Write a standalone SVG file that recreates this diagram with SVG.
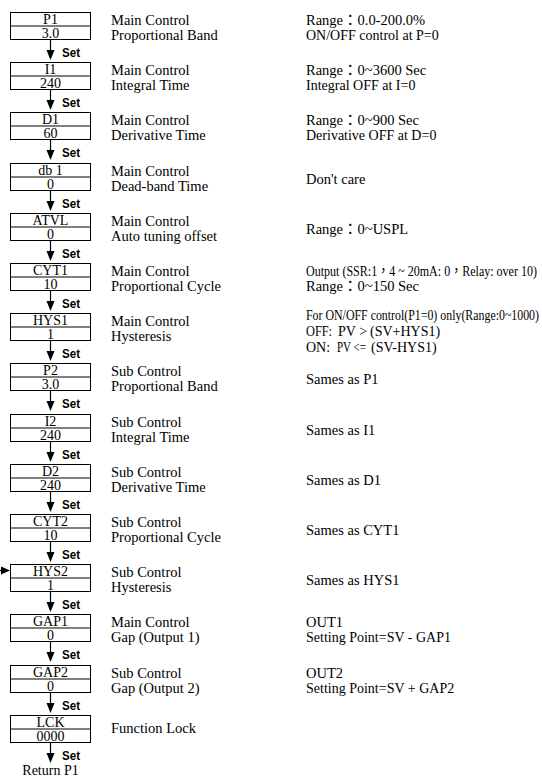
<svg xmlns="http://www.w3.org/2000/svg" width="542" height="780" viewBox="0 0 542 780">
<defs>
<style>
.bx{fill:#fff;stroke:#000;stroke-width:1}
.dv{stroke:#000;stroke-width:1}
.bl{font-family:"Liberation Serif","Noto Sans CJK TC",serif;font-size:14px;text-anchor:middle;fill:#000}
.t{font-family:"Liberation Serif","Noto Sans CJK TC",serif;font-size:14.5px;fill:#000}
.s{font-size:14px}
.set{font-family:"Liberation Sans Narrow","Liberation Sans",sans-serif;font-weight:bold;font-size:12.5px;fill:#000}
.ln{stroke:#000;stroke-width:1.2;fill:none}
.hd{fill:#000}
</style>
</defs>
<rect width="542" height="780" fill="#fff"/>
<g id="connectors">
<g id="a0" transform="translate(0,12)"><line class="ln" x1="50.5" y1="28" x2="50.5" y2="40"/><polygon class="hd" points="46.5,38 54.5,38 50.5,48"/><text class="set" x="62" y="45" textLength="18" lengthAdjust="spacingAndGlyphs">Set</text></g>
<g id="a1" transform="translate(0,62)"><line class="ln" x1="50.5" y1="28" x2="50.5" y2="40"/><polygon class="hd" points="46.5,38 54.5,38 50.5,48"/><text class="set" x="62" y="45" textLength="18" lengthAdjust="spacingAndGlyphs">Set</text></g>
<g id="a2" transform="translate(0,112)"><line class="ln" x1="50.5" y1="28" x2="50.5" y2="40"/><polygon class="hd" points="46.5,38 54.5,38 50.5,48"/><text class="set" x="62" y="45" textLength="18" lengthAdjust="spacingAndGlyphs">Set</text></g>
<g id="a3" transform="translate(0,163)"><line class="ln" x1="50.5" y1="28" x2="50.5" y2="40"/><polygon class="hd" points="46.5,38 54.5,38 50.5,48"/><text class="set" x="62" y="45" textLength="18" lengthAdjust="spacingAndGlyphs">Set</text></g>
<g id="a4" transform="translate(0,213)"><line class="ln" x1="50.5" y1="28" x2="50.5" y2="40"/><polygon class="hd" points="46.5,38 54.5,38 50.5,48"/><text class="set" x="62" y="45" textLength="18" lengthAdjust="spacingAndGlyphs">Set</text></g>
<g id="a5" transform="translate(0,263)"><line class="ln" x1="50.5" y1="28" x2="50.5" y2="40"/><polygon class="hd" points="46.5,38 54.5,38 50.5,48"/><text class="set" x="62" y="45" textLength="18" lengthAdjust="spacingAndGlyphs">Set</text></g>
<g id="a6" transform="translate(0,313)"><line class="ln" x1="50.5" y1="28" x2="50.5" y2="40"/><polygon class="hd" points="46.5,38 54.5,38 50.5,48"/><text class="set" x="62" y="45" textLength="18" lengthAdjust="spacingAndGlyphs">Set</text></g>
<g id="a7" transform="translate(0,363)"><line class="ln" x1="50.5" y1="28" x2="50.5" y2="40"/><polygon class="hd" points="46.5,38 54.5,38 50.5,48"/><text class="set" x="62" y="45" textLength="18" lengthAdjust="spacingAndGlyphs">Set</text></g>
<g id="a8" transform="translate(0,414)"><line class="ln" x1="50.5" y1="28" x2="50.5" y2="40"/><polygon class="hd" points="46.5,38 54.5,38 50.5,48"/><text class="set" x="62" y="45" textLength="18" lengthAdjust="spacingAndGlyphs">Set</text></g>
<g id="a9" transform="translate(0,464)"><line class="ln" x1="50.5" y1="28" x2="50.5" y2="40"/><polygon class="hd" points="46.5,38 54.5,38 50.5,48"/><text class="set" x="62" y="45" textLength="18" lengthAdjust="spacingAndGlyphs">Set</text></g>
<g id="a10" transform="translate(0,514)"><line class="ln" x1="50.5" y1="28" x2="50.5" y2="40"/><polygon class="hd" points="46.5,38 54.5,38 50.5,48"/><text class="set" x="62" y="45" textLength="18" lengthAdjust="spacingAndGlyphs">Set</text></g>
<g id="a11" transform="translate(0,564)"><line class="ln" x1="50.5" y1="28" x2="50.5" y2="40"/><polygon class="hd" points="46.5,38 54.5,38 50.5,48"/><text class="set" x="62" y="45" textLength="18" lengthAdjust="spacingAndGlyphs">Set</text></g>
<g id="a12" transform="translate(0,614)"><line class="ln" x1="50.5" y1="28" x2="50.5" y2="40"/><polygon class="hd" points="46.5,38 54.5,38 50.5,48"/><text class="set" x="62" y="45" textLength="18" lengthAdjust="spacingAndGlyphs">Set</text></g>
<g id="a13" transform="translate(0,665)"><line class="ln" x1="50.5" y1="28" x2="50.5" y2="40"/><polygon class="hd" points="46.5,38 54.5,38 50.5,48"/><text class="set" x="62" y="45" textLength="18" lengthAdjust="spacingAndGlyphs">Set</text></g>
<g id="a14" transform="translate(0,715)"><line class="ln" x1="50.5" y1="28" x2="50.5" y2="40"/><polygon class="hd" points="46.5,38 54.5,38 50.5,48"/><text class="set" x="62" y="45" textLength="18" lengthAdjust="spacingAndGlyphs">Set</text></g>
<g id="entry"><line class="ln" x1="0" y1="570.5" x2="4" y2="570.5"/><polygon class="hd" points="1,566.5 10,570.5 1,574.5"/></g>
</g>
<g id="n0" transform="translate(0,12)"><rect class="bx" x="10.5" y="0.5" width="80" height="27"/><line class="dv" x1="10.5" y1="14" x2="90.5" y2="14"/><text class="bl" x="50.5" y="12">P1</text><text class="bl" x="50.5" y="26">3.0</text><text class="t" x="111" y="13">Main Control</text><text class="t" x="111" y="28">Proportional Band</text><text class="t" x="306" y="13">Range：0.0-200.0%</text><text class="t s" x="306" y="28">ON/OFF control at P=0</text></g>
<g id="n1" transform="translate(0,62)"><rect class="bx" x="10.5" y="0.5" width="80" height="27"/><line class="dv" x1="10.5" y1="14" x2="90.5" y2="14"/><text class="bl" x="50.5" y="12">I1</text><text class="bl" x="50.5" y="26">240</text><text class="t" x="111" y="13">Main Control</text><text class="t" x="111" y="28">Integral Time</text><text class="t" x="306" y="13">Range：0~3600 Sec</text><text class="t s" x="306" y="28">Integral OFF at I=0</text></g>
<g id="n2" transform="translate(0,112)"><rect class="bx" x="10.5" y="0.5" width="80" height="27"/><line class="dv" x1="10.5" y1="14" x2="90.5" y2="14"/><text class="bl" x="50.5" y="12">D1</text><text class="bl" x="50.5" y="26">60</text><text class="t" x="111" y="13">Main Control</text><text class="t" x="111" y="28">Derivative Time</text><text class="t" x="306" y="13">Range：0~900 Sec</text><text class="t s" x="306" y="28">Derivative OFF at D=0</text></g>
<g id="n3" transform="translate(0,163)"><rect class="bx" x="10.5" y="0.5" width="80" height="27"/><line class="dv" x1="10.5" y1="14" x2="90.5" y2="14"/><text class="bl" x="50.5" y="12">db 1</text><text class="bl" x="50.5" y="26">0</text><text class="t" x="111" y="13">Main Control</text><text class="t" x="111" y="28">Dead-band Time</text><text class="t" x="306" y="21">Don't care</text></g>
<g id="n4" transform="translate(0,213)"><rect class="bx" x="10.5" y="0.5" width="80" height="27"/><line class="dv" x1="10.5" y1="14" x2="90.5" y2="14"/><text class="bl" x="50.5" y="12">ATVL</text><text class="bl" x="50.5" y="26">0</text><text class="t" x="111" y="13">Main Control</text><text class="t" x="111" y="28">Auto tuning offset</text><text class="t" x="306" y="21">Range：0~USPL</text></g>
<g id="n5" transform="translate(0,263)"><rect class="bx" x="10.5" y="0.5" width="80" height="27"/><line class="dv" x1="10.5" y1="14" x2="90.5" y2="14"/><text class="bl" x="50.5" y="12">CYT1</text><text class="bl" x="50.5" y="26">10</text><text class="t" x="111" y="13">Main Control</text><text class="t" x="111" y="28">Proportional Cycle</text><text class="t" x="306" y="13" textLength="231" lengthAdjust="spacingAndGlyphs">Output (SSR:1，4 ~ 20mA: 0，Relay: over 10)</text><text class="t" x="306" y="28">Range：0~150 Sec</text></g>
<g id="n6" transform="translate(0,313)"><rect class="bx" x="10.5" y="0.5" width="80" height="27"/><line class="dv" x1="10.5" y1="14" x2="90.5" y2="14"/><text class="bl" x="50.5" y="12">HYS1</text><text class="bl" x="50.5" y="26">1</text><text class="t" x="111" y="13">Main Control</text><text class="t" x="111" y="28">Hysteresis</text><text class="t" x="306" y="7" textLength="233" lengthAdjust="spacingAndGlyphs">For ON/OFF control(P1=0) only(Range:0~1000)</text><text class="t s" x="306" y="23" textLength="26" lengthAdjust="spacingAndGlyphs">OFF:</text><text class="t s" x="338" y="23">PV &gt;</text><text class="t s" x="370" y="23">(SV+HYS1)</text><text class="t s" x="306" y="39">ON:</text><text class="t s" x="337" y="39" textLength="29" lengthAdjust="spacingAndGlyphs">PV &lt;=</text><text class="t s" x="371" y="39">(SV-HYS1)</text></g>
<g id="n7" transform="translate(0,363)"><rect class="bx" x="10.5" y="0.5" width="80" height="27"/><line class="dv" x1="10.5" y1="14" x2="90.5" y2="14"/><text class="bl" x="50.5" y="12">P2</text><text class="bl" x="50.5" y="26">3.0</text><text class="t" x="111" y="13">Sub Control</text><text class="t" x="111" y="28">Proportional Band</text><text class="t" x="306" y="21">Sames as P1</text></g>
<g id="n8" transform="translate(0,414)"><rect class="bx" x="10.5" y="0.5" width="80" height="27"/><line class="dv" x1="10.5" y1="14" x2="90.5" y2="14"/><text class="bl" x="50.5" y="12">I2</text><text class="bl" x="50.5" y="26">240</text><text class="t" x="111" y="13">Sub Control</text><text class="t" x="111" y="28">Integral Time</text><text class="t" x="306" y="21">Sames as I1</text></g>
<g id="n9" transform="translate(0,464)"><rect class="bx" x="10.5" y="0.5" width="80" height="27"/><line class="dv" x1="10.5" y1="14" x2="90.5" y2="14"/><text class="bl" x="50.5" y="12">D2</text><text class="bl" x="50.5" y="26">240</text><text class="t" x="111" y="13">Sub Control</text><text class="t" x="111" y="28">Derivative Time</text><text class="t" x="306" y="21">Sames as D1</text></g>
<g id="n10" transform="translate(0,514)"><rect class="bx" x="10.5" y="0.5" width="80" height="27"/><line class="dv" x1="10.5" y1="14" x2="90.5" y2="14"/><text class="bl" x="50.5" y="12">CYT2</text><text class="bl" x="50.5" y="26">10</text><text class="t" x="111" y="13">Sub Control</text><text class="t" x="111" y="28">Proportional Cycle</text><text class="t" x="306" y="21">Sames as CYT1</text></g>
<g id="n11" transform="translate(0,564)"><rect class="bx" x="10.5" y="0.5" width="80" height="27"/><line class="dv" x1="10.5" y1="14" x2="90.5" y2="14"/><text class="bl" x="50.5" y="12">HYS2</text><text class="bl" x="50.5" y="26">1</text><text class="t" x="111" y="13">Sub Control</text><text class="t" x="111" y="28">Hysteresis</text><text class="t" x="306" y="21">Sames as HYS1</text></g>
<g id="n12" transform="translate(0,614)"><rect class="bx" x="10.5" y="0.5" width="80" height="27"/><line class="dv" x1="10.5" y1="14" x2="90.5" y2="14"/><text class="bl" x="50.5" y="12">GAP1</text><text class="bl" x="50.5" y="26">0</text><text class="t" x="111" y="13">Main Control</text><text class="t" x="111" y="28">Gap (Output 1)</text><text class="t" x="306" y="13">OUT1</text><text class="t s" x="306" y="28">Setting Point=SV - GAP1</text></g>
<g id="n13" transform="translate(0,665)"><rect class="bx" x="10.5" y="0.5" width="80" height="27"/><line class="dv" x1="10.5" y1="14" x2="90.5" y2="14"/><text class="bl" x="50.5" y="12">GAP2</text><text class="bl" x="50.5" y="26">0</text><text class="t" x="111" y="13">Sub Control</text><text class="t" x="111" y="28">Gap (Output 2)</text><text class="t" x="306" y="13">OUT2</text><text class="t s" x="306" y="28">Setting Point=SV + GAP2</text></g>
<g id="n14" transform="translate(0,715)"><rect class="bx" x="10.5" y="0.5" width="80" height="27"/><line class="dv" x1="10.5" y1="14" x2="90.5" y2="14"/><text class="bl" x="50.5" y="12">LCK</text><text class="bl" x="50.5" y="26">0000</text><text class="t" x="111" y="18">Function Lock</text></g>
<g id="ret"><text class="bl" x="50.5" y="775" style="font-size:14px">Return P1</text></g>
</svg>
